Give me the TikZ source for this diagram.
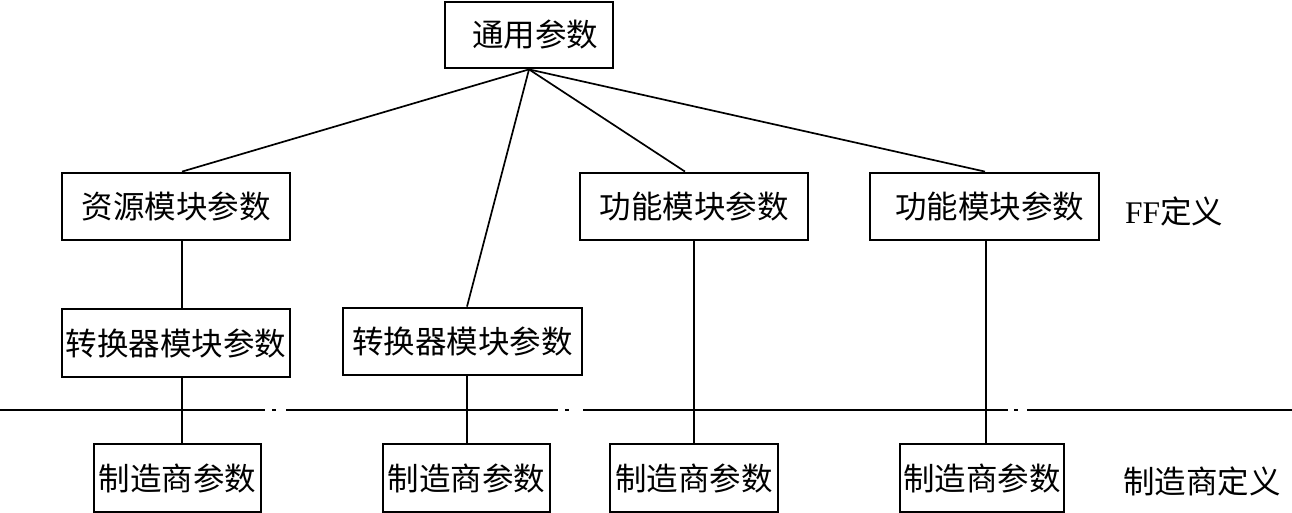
\documentclass[tikz,border=0pt]{standalone}
\usepackage{fontspec}
\newfontfamily\cjk{Noto Sans CJK SC}
\newfontfamily\latinserif{Liberation Serif}
\begin{document}
\begin{tikzpicture}[x=1pt,y=-1pt,
  box/.style={draw,line width=2.8pt,minimum height=66pt,inner sep=0pt,font=\cjk\fontsize{31.5}{33}\selectfont},
  conn/.style={line width=1.7pt},
  sep/.style={line width=1.7pt},
  lbl/.style={font=\cjk\fontsize{31.5}{33}\selectfont,inner sep=0pt}]
\useasboundingbox (0,0) rectangle (1292,513);
\node[box,minimum width=168pt] (top) at (529,35) {\hspace{12pt}通用参数};
\node[box,minimum width=228pt,minimum height=67pt] (ziyuan) at (176,206.5) {资源模块参数};
\node[box,minimum width=228pt,minimum height=67pt] (gn1) at (694,206.5) {功能模块参数};
\node[box,minimum width=229pt,minimum height=67pt] (gn2) at (984.5,206.5) {\hspace{10pt}功能模块参数};
\node[box,minimum width=228pt,minimum height=68pt] (zh1) at (176,343) {转换器模块参数};
\node[box,minimum width=239pt,minimum height=67pt] (zh2) at (462.5,341.5) {转换器模块参数};
\node[box,minimum width=167pt,minimum height=68pt] (zz1) at (177.5,478) {制造商参数};
\node[box,minimum width=167pt,minimum height=68pt] (zz2) at (466.5,478) {制造商参数};
\node[box,minimum width=168pt,minimum height=68pt] (zz3) at (694,478) {制造商参数};
\node[box,minimum width=164pt,minimum height=68pt] (zz4) at (982,478) {制造商参数};
\node[lbl,anchor=west] (ffdef) at (1125,211) {{\latinserif FF}定义};
\node[lbl,anchor=west] (zzdef) at (1123,481) {制造商定义};
% connectors from top
\draw[conn] (top.south) -- ([xshift=6pt]ziyuan.north);
\draw[conn] (top.south) -- ([xshift=4.5pt]zh2.north);
\draw[conn] (top.south) -- ([xshift=-9pt]gn1.north);
\draw[conn] (top.south) -- ([xshift=0.5pt]gn2.north);
% vertical connectors
\draw[conn] ([xshift=6pt]ziyuan.south) -- ([xshift=6pt]zh1.north);
\draw[conn] ([xshift=6pt]zh1.south) -- ([xshift=4.5pt]zz1.north);
\draw[conn] ([xshift=4.5pt]zh2.south) -- ([xshift=0.5pt]zz2.north);
\draw[conn] (gn1.south) -- (zz3.north);
\draw[conn] ([xshift=1.5pt]gn2.south) -- ([xshift=4pt]zz4.north);
% separator line
\coordinate (s0) at (0,410);
\coordinate (s1) at (1292,410);
\draw[sep] (s0) -- (265,410);
\draw[sep] (272,410) -- (276,410);
\draw[sep] (286,410) -- (558,410);
\draw[sep] (565,410) -- (569,410);
\draw[sep] (583,410) -- (1008,410);
\draw[sep] (1014,410) -- (1018,410);
\draw[sep] (1027,410) -- (s1);
\end{tikzpicture}
\end{document}
